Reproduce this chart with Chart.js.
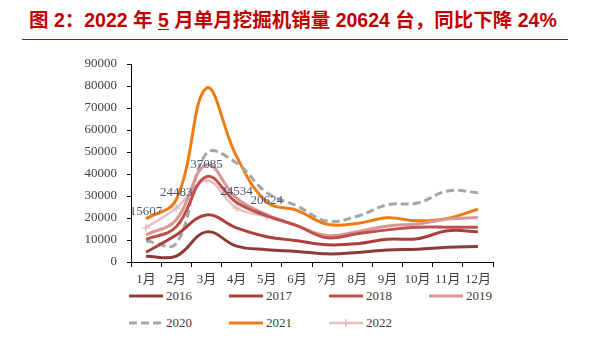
<!DOCTYPE html>
<html>
<head>
<meta charset="utf-8">
<script src="https://cdn.jsdelivr.net/npm/chart.js@4.4.0/dist/chart.umd.min.js"></script>
<style>
    body { margin: 0; background: #fff; width: 590px; height: 342px; overflow: hidden; position: relative; }
    #title { position: absolute; left: 29px; top: 9px; font: bold 19.5px "Liberation Sans", "Noto Sans CJK SC", sans-serif; color: #C00000; white-space: nowrap; line-height: 22px; }
    #title u { text-underline-offset: 2px; }
    #rule { position: absolute; left: 22px; top: 39px; width: 546px; height: 1px; background: #C00000; }
    #wrap { position: absolute; left: 0; top: 40px; width: 590px; height: 248px; }
    .leg { position: absolute; height: 14px; font: 13px "Liberation Serif", serif; color: #404040; white-space: nowrap; }
    .leg svg { position: absolute; left: 0; top: 0; }
    .leg span { position: absolute; left: 37px; top: -1px; }
</style>
</head>
<body>
<div id="title">图 2：2022 年 <u>5</u> 月单月挖掘机销量 20624 台，同比下降 24%</div>
<div id="rule"></div>
<div id="wrap"><canvas id="sales_plot" width="590" height="248"></canvas></div>
<div id="legend"></div>
<script>
'use strict';

// categories
const MONTHS = ['1月', '2月', '3月', '4月', '5月', '6月', '7月', '8月', '9月', '10月', '11月', '12月'];

// monthly excavator sales
const SALES_2016 = [2600, 2700, 13700, 7200, 5600, 4800, 3700, 4300, 5500, 5800, 6700, 7000];
const SALES_2017 = [4400, 12300, 21400, 15500, 11500, 9700, 7800, 8300, 10300, 10600, 14200, 13800];
const SALES_2018 = [10300, 16000, 38800, 27000, 21000, 16500, 11000, 12800, 14600, 15800, 15800, 15800];
const SALES_2019 = [12300, 19200, 44200, 29000, 21500, 16500, 12000, 13800, 16400, 17300, 19500, 20200];
const SALES_2020 = [9500, 8500, 49400, 45000, 31500, 25500, 18600, 20800, 26000, 26800, 32300, 31500];
const SALES_2021 = [19600, 28300, 79000, 48000, 27300, 23500, 17200, 17500, 20100, 18700, 19800, 24000];
const SALES_2022 = [15607, 24483, 37085, 24534, 20624];

const Y_TICKS = [0, 10000, 20000, 30000, 40000, 50000, 60000, 70000, 80000, 90000];

const TICK_FONT = { family: '"Liberation Serif", "Noto Sans CJK SC", serif', size: 13 };
const TICK_COLOR = '#404040';

function series(label, values, color, extra) {
    return Object.assign({
        label: label,
        data: values,
        borderColor: color,
        backgroundColor: color,
        borderWidth: 3,
        pointRadius: 0,
        tension: 0.4,
        fill: false
    }, extra || {});
}

const datasets = [
    series('2016', SALES_2016, '#8E3B38'),
    series('2017', SALES_2017, '#A9403C'),
    series('2018', SALES_2018, '#C0504D'),
    series('2019', SALES_2019, '#D99694'),
    series('2020', SALES_2020, '#A6A6A6', { borderDash: [8, 4] }),
    series('2021', SALES_2021, '#ED7D12'),
    series('2022', SALES_2022, '#E8BEBE', { borderWidth: 2.5, pointStyle: 'cross', pointRadius: 4, pointBorderWidth: 1.5 })
];

// values printed above the 2022 line
const pointLabels = {
    id: 'pointLabels',
    afterDatasetsDraw(chart) {
        const ctx = chart.ctx;
        const meta = chart.getDatasetMeta(6);
        ctx.save();
        ctx.font = '13px "Liberation Serif", serif';
        ctx.fillStyle = '#4A5670';
        ctx.textAlign = 'center';
        ctx.textBaseline = 'middle';
        meta.data.forEach((pt, i) => {
            ctx.fillText(String(SALES_2022[i]), pt.x, pt.y - 16);
        });
        ctx.restore();
    }
};

const config = {
    type: 'line',
    data: { labels: MONTHS, datasets: datasets },
    options: {
        responsive: false,
        animation: false,
        layout: { padding: { left: 0, right: 97, top: 24, bottom: 0 } },
        plugins: {
            legend: { display: false },
            tooltip: { enabled: false }
        },
        scales: {
            x: {
                offset: true,
                grid: { drawOnChartArea: false, drawTicks: true, tickLength: 5, tickColor: '#000', offset: true },
                border: { color: '#000', width: 1 },
                ticks: { font: TICK_FONT, color: TICK_COLOR, padding: 5, maxRotation: 0, autoSkip: false },
                afterFit(scale) { scale.height = 26; }
            },
            y: {
                min: 0,
                max: 90000,
                afterBuildTicks(scale) { scale.ticks = Y_TICKS.map(v => ({ value: v })); },
                grid: { drawOnChartArea: false, drawTicks: true, tickLength: 4, tickColor: '#000' },
                border: { color: '#000', width: 1 },
                ticks: { font: TICK_FONT, color: TICK_COLOR, padding: 10, callback: v => String(v) },
                afterFit(scale) { scale.width = 131; }
            }
        }
    },
    plugins: [pointLabels]
};

new Chart(document.getElementById('sales_plot'), config);

// legend in two rows, four columns
const legend = document.getElementById('legend');
datasets.forEach((ds, i) => {
    const col = i % 4, row = Math.floor(i / 4);
    const item = document.createElement('div');
    item.className = 'leg';
    item.style.left = (129 + col * 100) + 'px';
    item.style.top = (289 + row * 27) + 'px';
    let svg = '<svg width="34" height="14">';
    svg += '<line x1="0" y1="7" x2="34" y2="7" stroke="' + ds.borderColor + '" stroke-width="' + ds.borderWidth + '"' +
        (ds.borderDash ? ' stroke-dasharray="' + ds.borderDash.join(',') + '"' : '') + '/>';
    if (ds.pointStyle === 'cross') {
        svg += '<line x1="17" y1="3" x2="17" y2="11" stroke="' + ds.borderColor + '" stroke-width="1.5"/>';
    }
    svg += '</svg>';
    item.innerHTML = svg + '<span>' + ds.label + '</span>';
    legend.appendChild(item);
});
</script>
</body>
</html>
